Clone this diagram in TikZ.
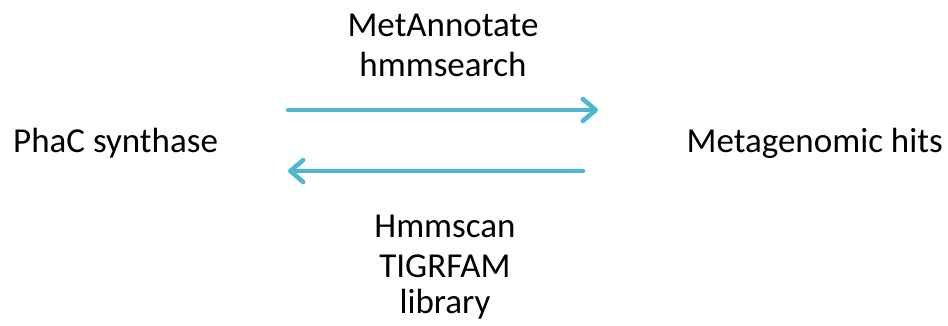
\documentclass[tikz,border=0pt]{standalone}
\usepackage{fontspec}
\setmainfont{Carlito}
\usetikzlibrary{arrows.meta}
\definecolor{aqua}{HTML}{4FB6CF}

\begin{document}
\begin{tikzpicture}[x=1pt,y=-1pt]
      \tikzset{lbl/.style={anchor=base,inner sep=0pt,font=\fontsize{35}{40}\selectfont}}
      \tikzset{flow/.style={draw=aqua,line width=4.5pt,line cap=round,
          -{Straight Barb[length=13pt,width=22pt,round]}}}
      \useasboundingbox (0,0) rectangle (948,326);
      \node[lbl,anchor=base west] (phac) at (13,153) {PhaC synthase};
      \node[lbl,anchor=base east] (hits) at (943,153) {Metagenomic hits};
      \node[lbl] (met) at (443,37) {MetAnnotate};
      \node[lbl] (hsearch) at (443,77) {hmmsearch};
      \node[lbl] (hscan) at (445,237) {Hmmscan};
      \node[lbl] (tigr) at (445,277) {TIGRFAM};
      \node[lbl] (lib) at (445,313) {library};
      \coordinate (fwdA) at (288,110);
      \coordinate (fwdB) at (598,110);
      \coordinate (revA) at (583,171);
      \coordinate (revB) at (288,171);
      \draw[flow] (fwdA) -- (fwdB);
      \draw[flow] (revA) -- (revB);
    \end{tikzpicture}
\end{document}
